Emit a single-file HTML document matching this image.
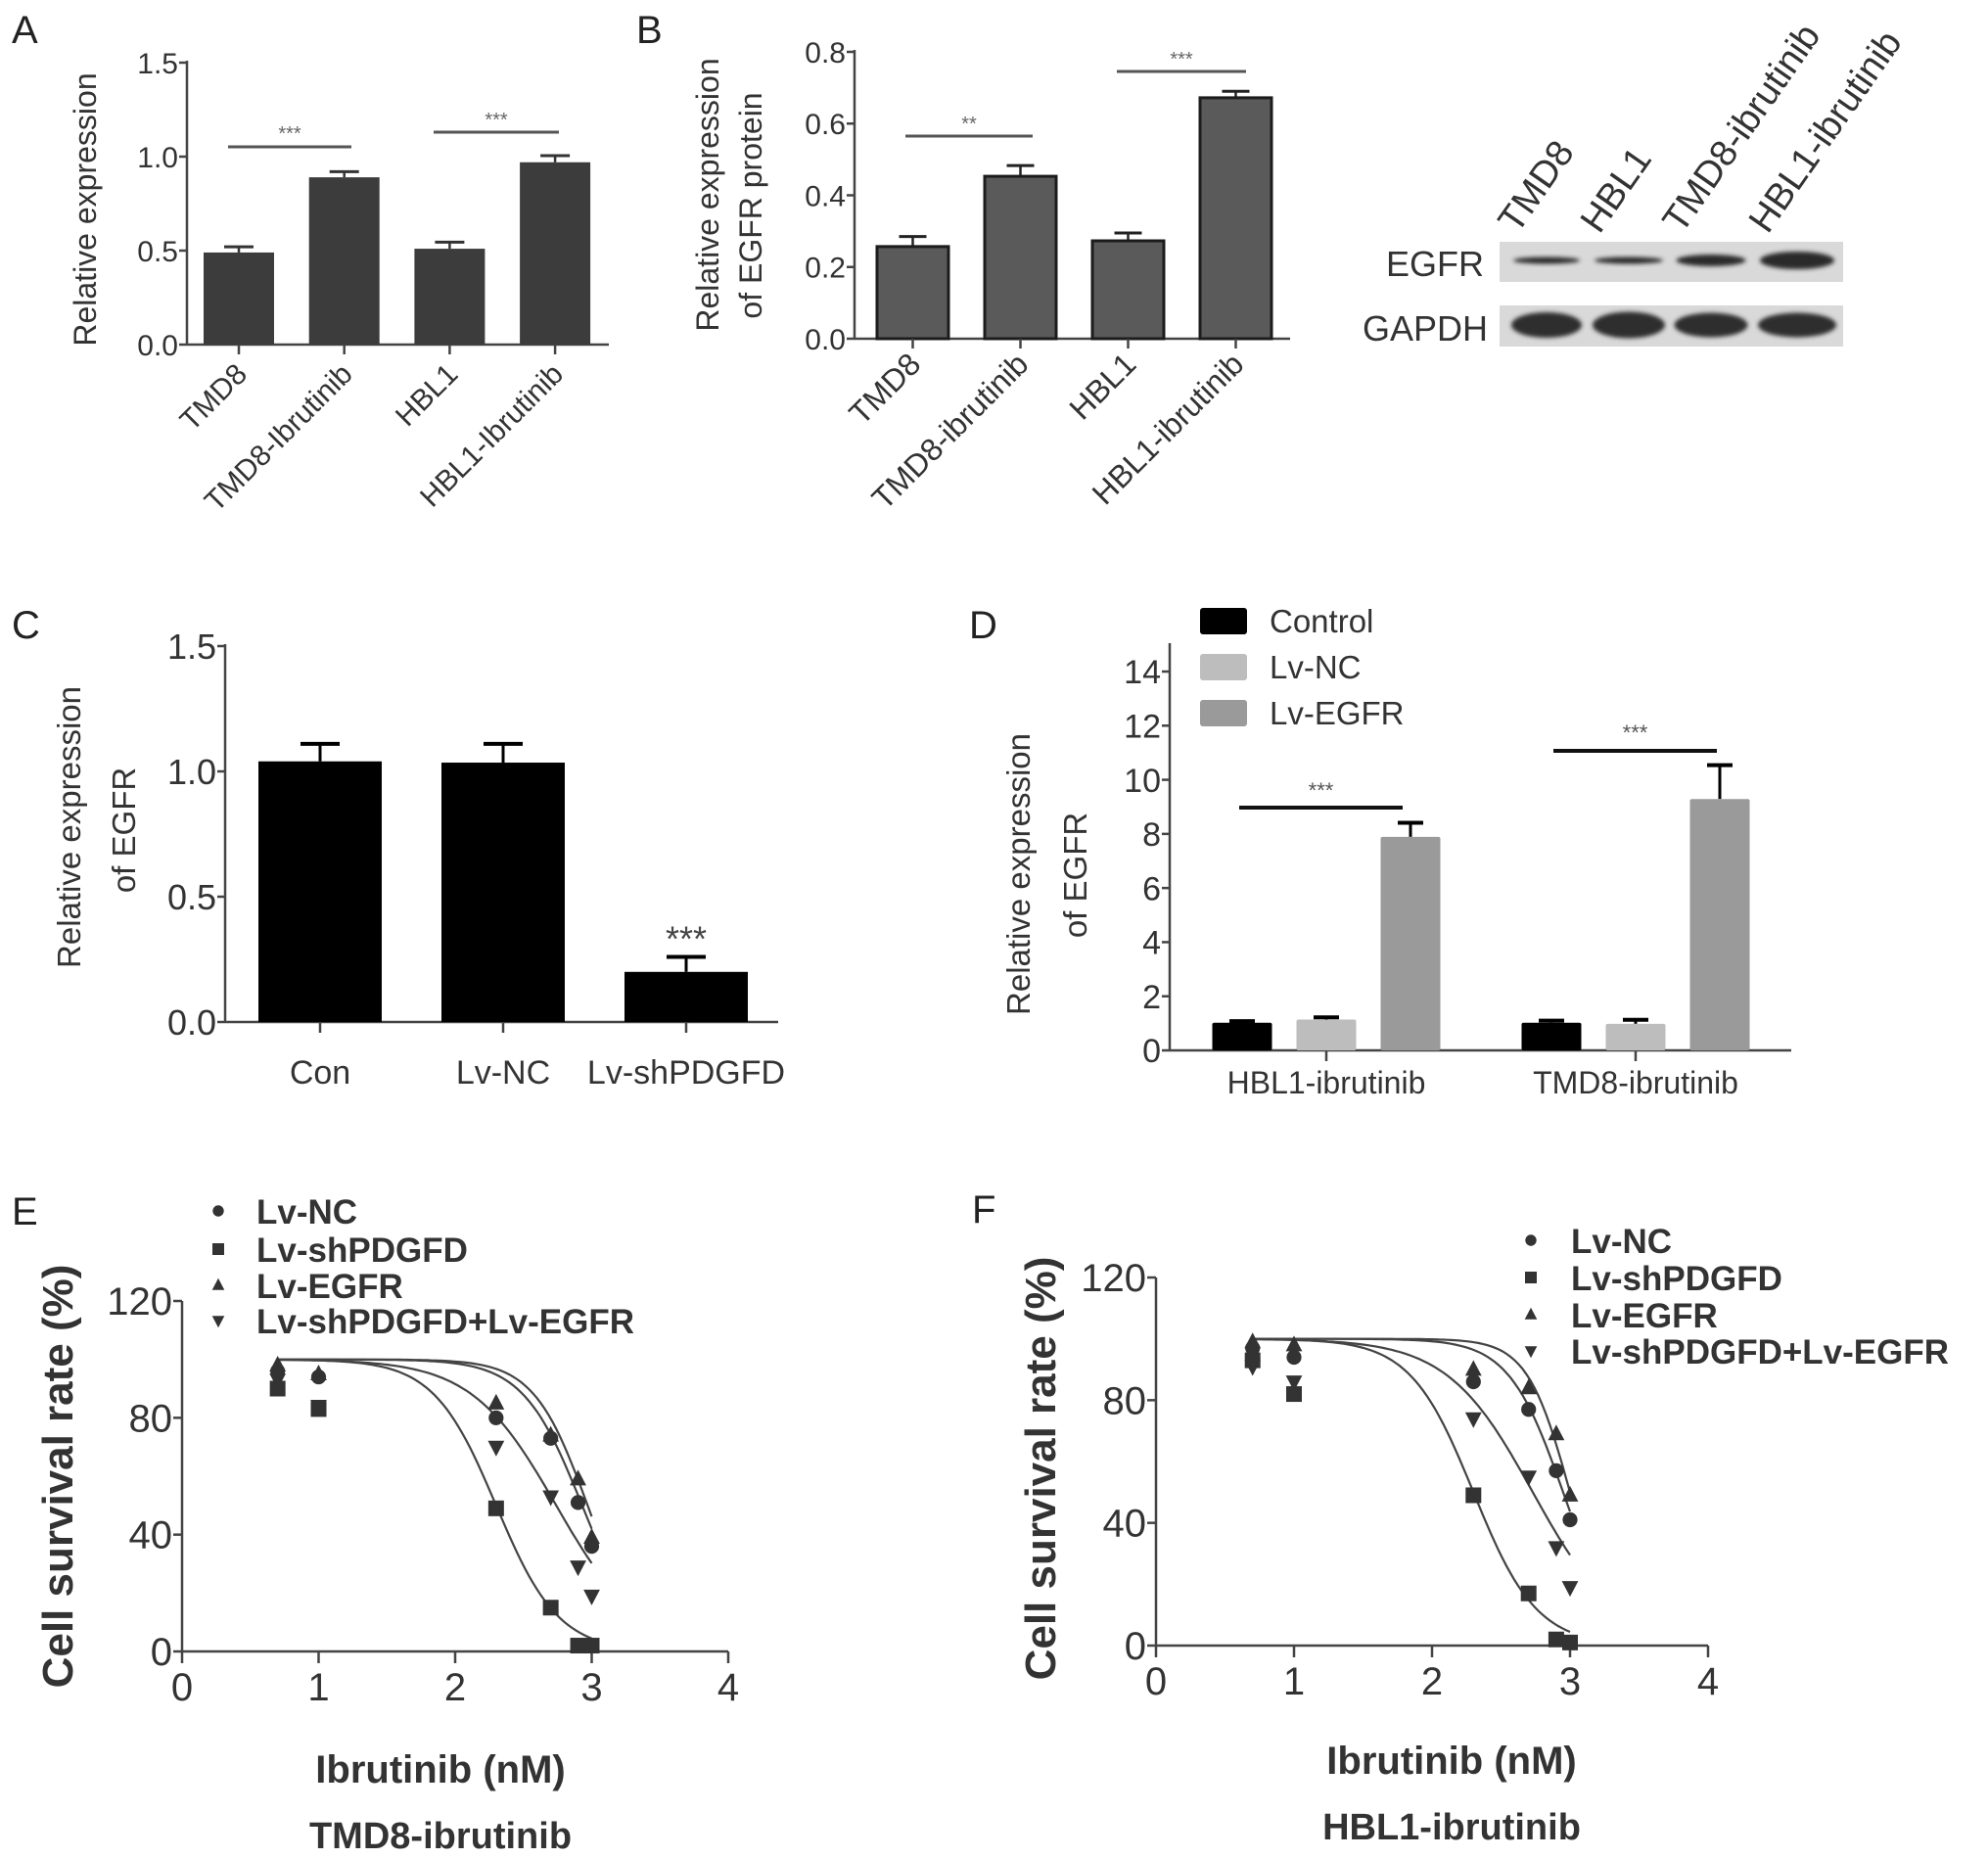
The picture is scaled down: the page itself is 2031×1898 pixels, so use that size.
<!DOCTYPE html>
<html><head><meta charset="utf-8">
<style>
html,body{margin:0;padding:0;background:#fff;}
svg{display:block;}
text{font-family:"Liberation Sans",sans-serif;}
.nar{font-family:"Liberation Sans Narrow","Liberation Sans",sans-serif;}
</style></head>
<body>
<svg id="fig" width="2031" height="1898" viewBox="0 0 2031 1898" xmlns="http://www.w3.org/2000/svg">
<defs>
<filter id="blur" x="-20%" y="-50%" width="140%" height="200%"><feGaussianBlur stdDeviation="2.2"/></filter>
</defs>
<g id="root"></g>
</svg>
<script>
// ---------- Panel A data ----------
const aCats = ["TMD8","TMD8-Ibrutinib","HBL1","HBL1-Ibrutinib"];
const aVals = [0.49,0.89,0.51,0.97];
const aErr = [0.03,0.03,0.035,0.035];
const aTicks = [0,0.5,1.0,1.5];
const aTickLabels = ["0.0","0.5","1.0","1.5"];
// ---------- Panel B data ----------
const bCats = ["TMD8","TMD8-ibrutinib","HBL1","HBL1-ibrutinib"];
const bVals = [0.257,0.453,0.273,0.672];
const bErr = [0.028,0.03,0.022,0.018];
const bTicks = [0,0.2,0.4,0.6,0.8];
const bTickLabels = ["0.0","0.2","0.4","0.6","0.8"];
// ---------- Blot ----------
const blotLanes = ["TMD8","HBL1","TMD8-ibrutinib","HBL1-ibrutinib"];
const egfrBand = [7,7,12,18];
const gapdhBand = [26,27,25,25];
// ---------- Panel C data ----------
const cCats = ["Con","Lv-NC","Lv-shPDGFD"];
const cVals = [1.04,1.035,0.2];
const cErr = [0.07,0.075,0.06];
const cTicks = [0,0.5,1.0,1.5];
const cTickLabels = ["0.0","0.5","1.0","1.5"];
// ---------- Panel D data ----------
const dGroups = ["HBL1-ibrutinib","TMD8-ibrutinib"];
const dSeries = ["Control","Lv-NC","Lv-EGFR"];
const dControl = [1.02,1.02];
const dLvNC = [1.14,0.98];
const dLvEGFR = [7.89,9.29];
const dControlErr = [0.06,0.08];
const dLvNCErr = [0.08,0.15];
const dLvEGFRErr = [0.52,1.25];
const dTicks = [0,2,4,6,8,10,12,14];
// ---------- Panel E/F data ----------
const doseX = [0.7,1,2.3,2.7,2.9,3];
const curveSeries = ["Lv-NC","Lv-shPDGFD","Lv-EGFR","Lv-shPDGFD+Lv-EGFR"];
const eNC = [96,94,80,73,51,36];
const eSh = [90,83,49,15,2,2];
const eEGFR = [98,95,85,74,59,39];
const eCombo = [93,84,70,53,29,19];
const eIC50 = [2.93,2.3,2.97,2.74];
const eHill = [2.0,1.9,2.2,1.4];
const fNC = [97,94,86,77,57,41];
const fSh = [93,82,49,17,2,1];
const fEGFR = [99,98,90,84,69,49];
const fCombo = [91,86,74,55,32,19];
const fIC50 = [2.95,2.3,3.0,2.73];
const fHill = [2.2,1.9,2.8,1.4];
const survTicks = [0,40,80,120];
const doseTicks = [0,1,2,3,4];

const NS="http://www.w3.org/2000/svg";
const root=document.getElementById('root');
function mk(tag,attrs,parent){const e=document.createElementNS(NS,tag);for(const k in attrs)e.setAttribute(k,attrs[k]);(parent||root).appendChild(e);return e;}
function txt(s,attrs,parent){const e=mk('text',attrs,parent);e.textContent=s;return e;}

[["A",12,44],["B",650,44],["C",12,652],["D",990,652],["E",12,1251],["F",993,1249]].forEach(p=>{
  const t=txt(p[0],{x:p[1],y:p[2],'font-size':40,fill:'#222'});
  
  
});

function barChart(o){
  const g=mk('g',{});
  
  
  const ys=v=>o.y0-(v-o.vmin)/(o.vmax-o.vmin)*(o.y0-o.y1);
  const ya=mk('line',{x1:o.ax,y1:o.y1-2,x2:o.ax,y2:o.y0,stroke:'#444','stroke-width':2.5},g);
  
  o.ticks.forEach((t,i)=>{
    mk('line',{x1:o.ax-8,y1:ys(t),x2:o.ax,y2:ys(t),stroke:'#444','stroke-width':2.5},g);
    const l=txt(o.tickLabels[i],{x:o.ax-9,y:ys(t)+o.tfs*0.36,'text-anchor':'end','font-size':o.tfs,fill:'#333','class':'nar'},g);
    
  });
  const xa=mk('line',{x1:o.ax,y1:o.y0,x2:o.xend,y2:o.y0,stroke:'#444','stroke-width':2.5},g);
  
  return {g,ys};
}

// ---------- Panel A ----------
(function(){
  const o={name:'panel-a-chart',ax:191,y0:352,y1:64,vmin:0,vmax:1.5,xend:622,ticks:aTicks,tickLabels:aTickLabels,tfs:30};
  const {g,ys}=barChart(o);
  const cx=i=>244+i*107.7, bw=72;
  aVals.forEach((v,i)=>{
    const x=cx(i);
    mk('line',{x1:x,y1:ys(v+aErr[i]),x2:x,y2:ys(v),stroke:'#333','stroke-width':2.5},g);
    mk('line',{x1:x-15,y1:ys(v+aErr[i]),x2:x+15,y2:ys(v+aErr[i]),stroke:'#333','stroke-width':3},g);
    const r=mk('rect',{x:x-bw/2,y:ys(v),width:bw,height:ys(0)-ys(v),fill:'#3c3c3c'},g);
    
    mk('line',{x1:x,y1:352,x2:x,y2:362,stroke:'#444','stroke-width':2.5},g);
    const l=txt(aCats[i],{x:x+10,y:384,'text-anchor':'end','font-size':30,fill:'#333',transform:`rotate(-45 ${x+10} 384)`},g);
    
  });
  [[233,359,150,137],[443,571,135,123]].forEach(s=>{
    mk('line',{x1:s[0],y1:s[2],x2:s[1],y2:s[2],stroke:'#555','stroke-width':3},g);
    const t=txt('***',{x:(s[0]+s[1])/2,y:s[3]+6,'text-anchor':'middle','font-size':20,fill:'#666'},g);
    
  });
  const yt=txt('Relative expression',{x:0,y:0,'text-anchor':'middle','font-size':32,fill:'#333',transform:'translate(98 214) rotate(-90)'},g);
  
})();

// ---------- Panel B ----------
(function(){
  const o={name:'panel-b-chart',ax:873,y0:346,y1:53,vmin:0,vmax:0.8,xend:1318,ticks:bTicks,tickLabels:bTickLabels,tfs:30};
  const {g,ys}=barChart(o);
  const cx=i=>932.5+i*110, bw=73;
  bVals.forEach((v,i)=>{
    const x=cx(i);
    mk('line',{x1:x,y1:ys(v+bErr[i]),x2:x,y2:ys(v),stroke:'#222','stroke-width':2.5},g);
    mk('line',{x1:x-14,y1:ys(v+bErr[i]),x2:x+14,y2:ys(v+bErr[i]),stroke:'#222','stroke-width':3},g);
    const r=mk('rect',{x:x-bw/2,y:ys(v),width:bw,height:ys(0)-ys(v),fill:'#5a5a5a',stroke:'#1c1c1c','stroke-width':3},g);
    
    mk('line',{x1:x,y1:346,x2:x,y2:356,stroke:'#444','stroke-width':2.5},g);
    const l=txt(bCats[i],{x:x+10,y:374,'text-anchor':'end','font-size':32,fill:'#333',transform:`rotate(-45 ${x+10} 374)`},g);
    
  });
  [[925,1055,139,129,'**'],[1141,1273,73,63,'***']].forEach(s=>{
    mk('line',{x1:s[0],y1:s[2],x2:s[1],y2:s[2],stroke:'#555','stroke-width':3},g);
    const t=txt(s[4],{x:(s[0]+s[1])/2,y:s[3]+4,'text-anchor':'middle','font-size':20,fill:'#666'},g);
    
  });
  const yt=txt('Relative expression',{x:0,y:0,'text-anchor':'middle','font-size':32,fill:'#333',transform:'translate(734 199) rotate(-90)'},g);
  
  const yt2=txt('of EGFR protein',{x:0,y:0,'text-anchor':'middle','font-size':32,fill:'#333',transform:'translate(778 210) rotate(-90)'},g);
  
})();

// ---------- Western blot ----------
(function(){
  const g=mk('g',{});
  
  
  const lx=[1580,1664,1748,1836], bw=[68,70,71,76];
  const e=mk('rect',{x:1532,y:247,width:351,height:41,fill:'#d9d9d9'},g);
  
  const gp=mk('rect',{x:1532,y:312,width:351,height:42,fill:'#d9d9d9'},g);
  
  blotLanes.forEach((n,i)=>{
    const b1=mk('ellipse',{cx:lx[i],cy:266,rx:bw[i]/2,ry:egfrBand[i]/2,fill:'#2a2a2a',filter:'url(#blur)'},g);
    
    const b2=mk('ellipse',{cx:lx[i],cy:332,rx:bw[i]/2+2,ry:gapdhBand[i]/2,fill:'#2e2e2e',filter:'url(#blur)'},g);
    
    const sx=lx[i]-30, sy=240;
    const l=txt(n,{x:sx,y:sy,'font-size':38,fill:'#333',transform:`rotate(-55 ${sx} ${sy})`},g);
    
  });
  const t1=txt('EGFR',{x:1516,y:282,'text-anchor':'end','font-size':36,fill:'#333','class':'nar'},g);
  
  const t2=txt('GAPDH',{x:1520,y:348,'text-anchor':'end','font-size':36,fill:'#333','class':'nar'},g);
  
})();

// ---------- Panel C ----------
(function(){
  const o={name:'panel-c-chart',ax:230,y0:1044,y1:660,vmin:0,vmax:1.5,xend:795,ticks:cTicks,tickLabels:cTickLabels,tfs:36};
  const {g,ys}=barChart(o);
  const cx=i=>327+i*187, bw=126;
  cVals.forEach((v,i)=>{
    const x=cx(i);
    mk('line',{x1:x,y1:ys(v+cErr[i]),x2:x,y2:ys(v),stroke:'#000','stroke-width':3},g);
    mk('line',{x1:x-20,y1:ys(v+cErr[i]),x2:x+20,y2:ys(v+cErr[i]),stroke:'#000','stroke-width':4},g);
    const r=mk('rect',{x:x-bw/2,y:ys(v),width:bw,height:ys(0)-ys(v),fill:'#000'},g);
    
    mk('line',{x1:x,y1:1044,x2:x,y2:1055,stroke:'#444','stroke-width':2.5},g);
    const l=txt(cCats[i],{x:x,y:1107,'text-anchor':'middle','font-size':34,fill:'#333','class':'nar'},g);
    
  });
  const st=txt('***',{x:cx(2),y:ys(cVals[2]+cErr[2])-6,'text-anchor':'middle','font-size':36,fill:'#444'},g);
  
  const yt=txt('Relative expression',{x:0,y:0,'text-anchor':'middle','font-size':33,fill:'#333',transform:'translate(82 845) rotate(-90)'},g);
  
  const yt2=txt('of EGFR',{x:0,y:0,'text-anchor':'middle','font-size':33,fill:'#333',transform:'translate(138 848) rotate(-90)'},g);
  
})();

// ---------- Panel D ----------
(function(){
  const lab=dTicks.map(String);
  const o={name:'panel-d-chart',ax:1195,y0:1073,y1:686,vmin:0,vmax:14,xend:1830,ticks:dTicks,tickLabels:lab,tfs:34};
  const {g,ys}=barChart(o);
  g.querySelector('line').setAttribute('y1',657);
  const colors=['#000','#bdbdbd','#9a9a9a'];
  const vals=[dControl,dLvNC,dLvEGFR], errs=[dControlErr,dLvNCErr,dLvEGFRErr];
  const gc=[1355,1671], off=[-86,0,86], bw=61;
  dGroups.forEach((gn,gi)=>{
    dSeries.forEach((sn,si)=>{
      const x=gc[gi]+off[si], v=vals[si][gi], e=errs[si][gi];
      mk('line',{x1:x,y1:ys(v+e),x2:x,y2:ys(v),stroke:'#000','stroke-width':3},g);
      mk('line',{x1:x-13,y1:ys(v+e),x2:x+13,y2:ys(v+e),stroke:'#000','stroke-width':4},g);
      const r=mk('rect',{x:x-bw/2,y:ys(v),width:bw,height:ys(0)-ys(v),fill:colors[si],rx:2},g);
      
    });
    mk('line',{x1:gc[gi],y1:1073,x2:gc[gi],y2:1084,stroke:'#444','stroke-width':2.5},g);
    const l=txt(gn,{x:gc[gi],y:1117,'text-anchor':'middle','font-size':32,fill:'#333','class':'nar'},g);
    
  });
  [[1266,1433,825,807],[1587,1754,767,748]].forEach(s=>{
    mk('line',{x1:s[0],y1:s[2],x2:s[1],y2:s[2],stroke:'#111','stroke-width':4},g);
    const t=txt('***',{x:(s[0]+s[1])/2,y:s[3]+8,'text-anchor':'middle','font-size':22,fill:'#555'},g);
    
  });
  const ly=[634,681,728];
  dSeries.forEach((sn,i)=>{
    const sw=mk('rect',{x:1226,y:ly[i]-13,width:48,height:27,fill:colors[i],rx:3},g);
    
    const t=txt(sn,{x:1297,y:ly[i]+12,'font-size':33,fill:'#333','class':'nar'},g);
    
  });
  const yt=txt('Relative expression',{x:0,y:0,'text-anchor':'middle','font-size':33,fill:'#333',transform:'translate(1052 893) rotate(-90)'},g);
  
  const yt2=txt('of EGFR',{x:0,y:0,'text-anchor':'middle','font-size':33,fill:'#333',transform:'translate(1110 894) rotate(-90)'},g);
  
})();

// ---------- Dose response panels ----------
function marker(g,type,x,y,s){
  let e;
  if(type===0) e=mk('circle',{cx:x,cy:y,r:s*0.95,fill:'#333'},g);
  else if(type===1) e=mk('rect',{x:x-s,y:y-s,width:2*s,height:2*s,fill:'#333'},g);
  else if(type===2) e=mk('polygon',{points:`${x},${y-s*1.2} ${x-s*1.05},${y+s*0.8} ${x+s*1.05},${y+s*0.8}`,fill:'#333'},g);
  else e=mk('polygon',{points:`${x},${y+s*1.2} ${x-s*1.05},${y-s*0.8} ${x+s*1.05},${y-s*0.8}`,fill:'#333'},g);
  return e;
}
function dosePanel(p){
  const g=mk('g',{});
  
  
  const xs=v=>p.x0+v*(p.x4-p.x0)/4;
  const ys=v=>p.y0-v*(p.y0-p.y120)/120;
  const ya=mk('line',{x1:p.x0,y1:ys(120),x2:p.x0,y2:ys(0),stroke:'#444','stroke-width':2.5},g);
  
  const xa=mk('line',{x1:p.x0,y1:ys(0),x2:xs(4),y2:ys(0),stroke:'#444','stroke-width':2.5},g);
  
  survTicks.forEach(t=>{
    mk('line',{x1:p.x0-9,y1:ys(t),x2:p.x0,y2:ys(t),stroke:'#444','stroke-width':2.5},g);
    const l=txt(String(t),{x:p.x0-10,y:ys(t)+14,'text-anchor':'end','font-size':40,fill:'#333','class':'nar'},g);
    
  });
  doseTicks.forEach(t=>{
    mk('line',{x1:xs(t),y1:ys(0),x2:xs(t),y2:ys(0)+12,stroke:'#444','stroke-width':2.5},g);
    const l=txt(String(t),{x:xs(t),y:ys(0)+50,'text-anchor':'middle','font-size':40,fill:'#333','class':'nar'},g);
    
  });
  p.series.forEach((vals,si)=>{
    let d='';
    for(let k=0;k<=80;k++){
      const x=0.7+k*(3-0.7)/80;
      const y=100/(1+Math.pow(10,(x-p.ic50[si])*p.hill[si]));
      d+=(k?'L':'M')+xs(x).toFixed(1)+' '+ys(y).toFixed(1);
    }
    const c=mk('path',{d:d,fill:'none',stroke:'#444','stroke-width':2.2},g);
    
  });
  p.series.forEach((vals,si)=>{
    vals.forEach((v,k)=>{
      const m=marker(g,si,xs(doseX[k]),ys(v),8);
      
      
    });
  });
  curveSeries.forEach((sn,i)=>{
    const ly=p.ly[i];
    const m=marker(g,i,p.lmx,ly,6);
    
    const t=txt(sn,{x:p.ltx,y:ly+13,'font-size':35,'font-weight':'bold',fill:'#333','class':'nar'},g);
    
  });
  const yt=txt('Cell survival rate (%)',{x:0,y:0,'text-anchor':'middle','font-size':44,'font-weight':'bold',fill:'#333',transform:`translate(${p.ytx} ${p.yty}) rotate(-90)`},g);
  
  const xt=txt('Ibrutinib (nM)',{x:p.xtx,y:p.xty,'text-anchor':'middle','font-size':40,'font-weight':'bold',fill:'#333'},g);
  
  const st=txt(p.sub,{x:p.xtx,y:p.xty+67,'text-anchor':'middle','font-size':38,'font-weight':'bold',fill:'#333'},g);
  
}
dosePanel({name:'panel-e-chart',x0:186,x4:744,y0:1687,y120:1329,series:[eNC,eSh,eEGFR,eCombo],ic50:eIC50,hill:eHill,
  ly:[1237,1276,1313,1349],lmx:223,ltx:262,ytx:74,yty:1508,xtx:450,xty:1821,sub:'TMD8-ibrutinib'});
dosePanel({name:'panel-f-chart',x0:1181,x4:1745,y0:1681,y120:1305,series:[fNC,fSh,fEGFR,fCombo],ic50:fIC50,hill:fHill,
  ly:[1267,1305,1343,1380],lmx:1564,ltx:1605,ytx:1078,yty:1500,xtx:1483,xty:1812,sub:'HBL1-ibrutinib'});
</script>
</body></html>
